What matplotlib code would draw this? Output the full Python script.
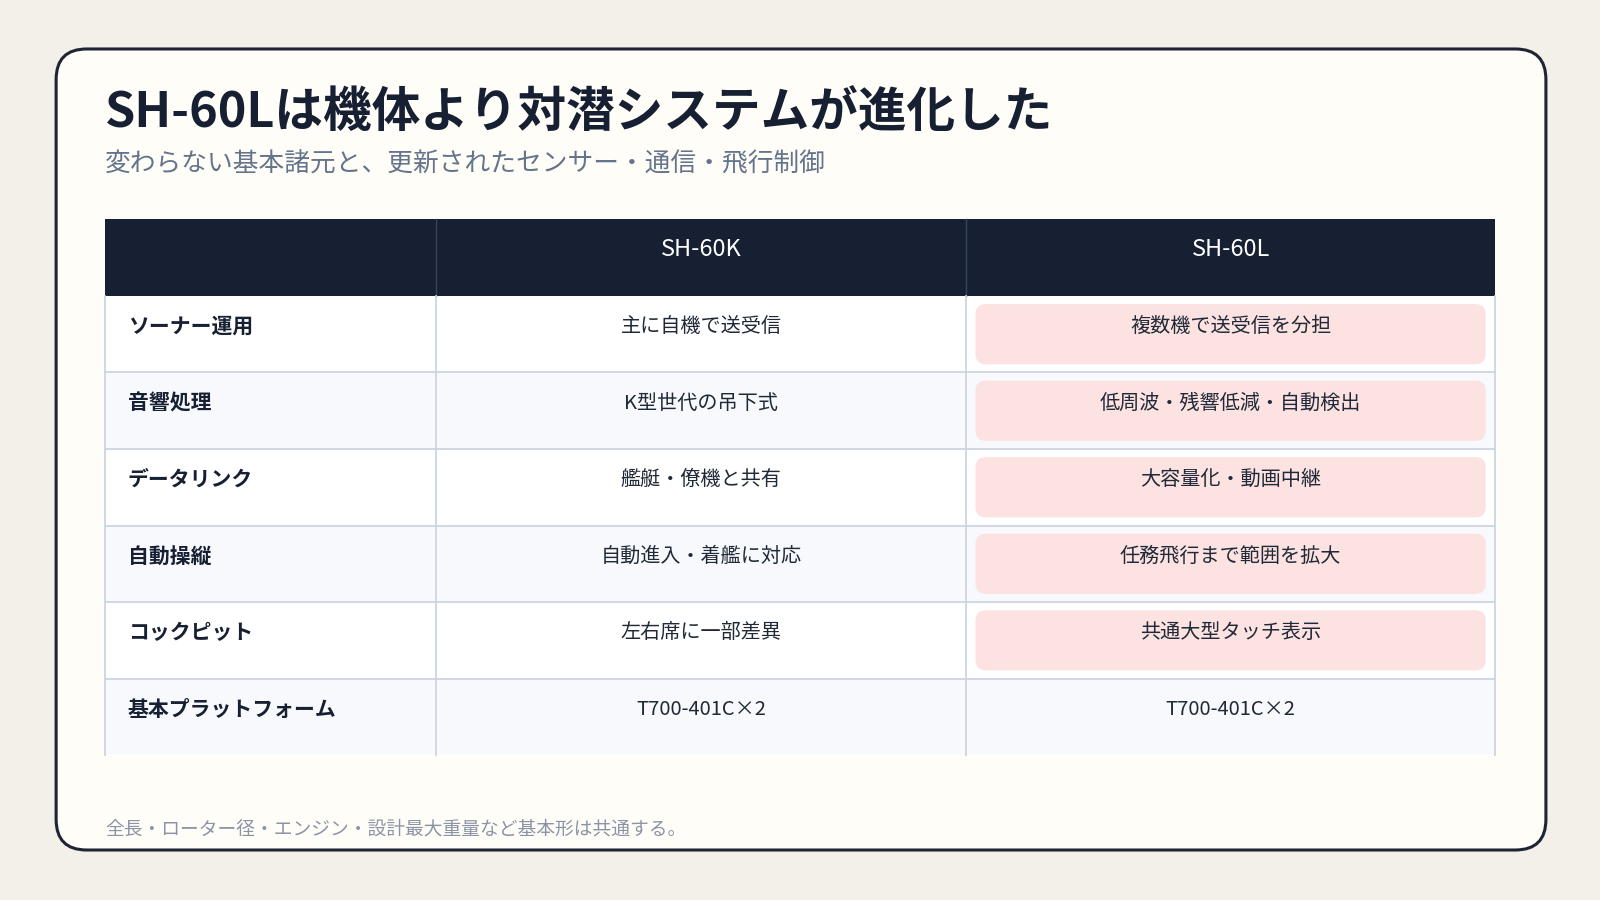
import matplotlib
matplotlib.use("Agg")
import matplotlib.pyplot as plt
from matplotlib.patches import FancyBboxPatch, Rectangle

plt.rcParams['font.family'] = ['Noto Sans CJK JP', 'DejaVu Sans']

title = "SH-60Lは機体より対潜システムが進化した"
subtitle = "変わらない基本諸元と、更新されたセンサー・通信・飛行制御"
columns = ["", "SH-60K", "SH-60L"]
row_labels = ["ソーナー運用", "音響処理", "データリンク", "自動操縦", "コックピット", "基本プラットフォーム"]
k_values = ["主に自機で送受信", "K型世代の吊下式", "艦艇・僚機と共有", "自動進入・着艦に対応", "左右席に一部差異", "T700-401C×2"]
l_values = ["複数機で送受信を分担", "低周波・残響低減・自動検出", "大容量化・動画中継", "任務飛行まで範囲を拡大", "共通大型タッチ表示", "T700-401C×2"]
highlight = [True, True, True, True, True, False]
footnote = "全長・ローター径・エンジン・設計最大重量など基本形は共通する。"

W, H = 1568, 882
fig = plt.figure(figsize=(16, 9), dpi=100)
fig.patch.set_facecolor("#f3efe9")
ax = fig.add_axes([0, 0, 1, 1])
ax.set_xlim(0, W); ax.set_ylim(H, 0); ax.axis("off")

ax.add_patch(FancyBboxPatch((55, 48), 1460, 785, boxstyle="round,pad=0,rounding_size=30",
                            fc="#fffdf7", ec="#1e2433", lw=2.2))
ax.text(103, 110, title, fontsize=35, fontweight="bold", color="#172033", va="center", ha="left")
ax.text(103, 161, subtitle, fontsize=18.5, color="#64748b", va="center", ha="left")

xs = [103, 427, 947, 1465]
top, hh, rh = 215, 75, 75
grid = "#cbd5e1"
ax.add_patch(Rectangle((xs[0], top), xs[-1] - xs[0], hh, fc="#172033", ec="none"))
for j in range(1, 3):
    ax.text((xs[j] + xs[j + 1]) / 2, top + 30, columns[j], fontsize=17, color="white", ha="center", va="center")
    ax.plot([xs[j], xs[j]], [top, top + hh], color="#3a4458", lw=1)

for i, lab in enumerate(row_labels):
    y0 = top + hh + i * rh
    ax.add_patch(Rectangle((xs[0], y0), xs[-1] - xs[0], rh, fc="white" if i % 2 == 0 else "#f7f9fc", ec="none"))
    if highlight[i]:
        ax.add_patch(FancyBboxPatch((956, y0 + 8), 500, 59, boxstyle="round,pad=0,rounding_size=10",
                                    fc="#fde2e2", ec="none"))
    ty = y0 + 30
    ax.text(125, ty, lab, fontsize=15, fontweight="bold", color="#172033", ha="left", va="center")
    ax.text((xs[1] + xs[2]) / 2, ty, k_values[i], fontsize=14.5, color="#1f2937", ha="center", va="center")
    ax.text((xs[2] + xs[3]) / 2, ty, l_values[i], fontsize=14.5, color="#1f2937", ha="center", va="center")
    if i < len(row_labels) - 1:
        ax.plot([xs[0], xs[-1]], [y0 + rh, y0 + rh], color=grid, lw=1.3)

bottom = top + hh + len(row_labels) * rh
for x in xs:
    ax.plot([x, x], [top + hh, bottom], color=grid, lw=1.3)

ax.text(103, 812, footnote, fontsize=13.5, color="#8a94a6", ha="left", va="center")
fig.savefig("out.png", dpi=100, facecolor=fig.get_facecolor())
